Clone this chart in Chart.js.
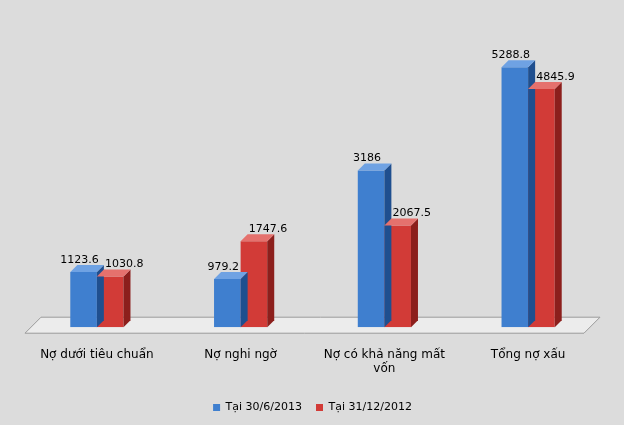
<!DOCTYPE html>
<html><head><meta charset="utf-8">
<script src="https://cdn.jsdelivr.net/npm/chart.js@4"></script>
<style>body{margin:0;background:#dcdcdc}#wrap{width:624px;height:425px}</style>
</head><body><div id="wrap"><canvas id="c"></canvas></div>
<script>
const categories = ["Nợ dưới tiêu chuẩn", "Nợ nghi ngờ", ["Nợ có khả năng mất", "vốn"], "Tổng nợ xấu"];
const series2013 = [1123.6, 979.2, 3186, 5288.8];
const series2012 = [1030.8, 1747.6, 2067.5, 4845.9];
const seriesNames = ["Tại 30/6/2013", "Tại 31/12/2012"];
const D = 7;

const plugin3d = {
  id: 'p3d',
  beforeDatasetsDraw(chart) {
    const ctx = chart.ctx, a = chart.chartArea, y0 = chart.scales.y.getPixelForValue(0);
    ctx.save();
    ctx.fillStyle = '#ececec'; ctx.strokeStyle = '#9a9a9a'; ctx.lineWidth = 1;
    ctx.beginPath();
    ctx.moveTo(a.left, y0 + 6); ctx.lineTo(a.left + 16, y0 - 10);
    ctx.lineTo(a.right, y0 - 10); ctx.lineTo(a.right - 16, y0 + 6); ctx.closePath();
    ctx.fill(); ctx.stroke();
    ctx.restore();
  },
  afterDatasetsDraw(chart) {
    const ctx = chart.ctx;
    const dark = ['#1f4f8f', '#8c1f1c'], light = ['#6fa2e3', '#e5716d'];
    chart.data.datasets.forEach((ds, i) => {
      chart.getDatasetMeta(i).data.forEach((b, j) => {
        const w = b.width / 2, x = b.x, y = b.y, base = b.base;
        ctx.fillStyle = dark[i];
        ctx.beginPath();
        ctx.moveTo(x + w, y); ctx.lineTo(x + w + D, y - D); ctx.lineTo(x + w + D, base - D); ctx.lineTo(x + w, base); ctx.closePath(); ctx.fill();
        ctx.fillStyle = light[i];
        ctx.beginPath();
        ctx.moveTo(x - w, y); ctx.lineTo(x - w + D, y - D); ctx.lineTo(x + w + D, y - D); ctx.lineTo(x + w, y); ctx.closePath(); ctx.fill();
        ctx.fillStyle = '#000'; ctx.font = '11px "DejaVu Sans"'; ctx.textAlign = 'center';
        ctx.fillText(String(ds.data[j]), x + (i ? 14 : -4), y - D - 5);
      });
    });
  }
};

new Chart(document.getElementById('c'), {
  type: 'bar',
  data: {
    labels: categories,
    datasets: [
      { label: seriesNames[0], data: series2013, backgroundColor: '#3f7fcf' },
      { label: seriesNames[1], data: series2012, backgroundColor: '#d23b37' }
    ]
  },
  options: {
    responsive: true, maintainAspectRatio: false, animation: false,
    layout: { padding: { left: 25, right: 24, top: 20, bottom: 2 } },
    datasets: { bar: { categoryPercentage: 0.37, barPercentage: 1 } },
    scales: {
      y: { display: false, min: 0, max: 6250 },
      x: { grid: { display: false }, border: { display: false },
           ticks: { color: '#000', font: { size: 12, family: 'DejaVu Sans' }, padding: 12 } }
    },
    plugins: {
      tooltip: { enabled: false },
      legend: { position: 'bottom',
        labels: { boxWidth: 7, boxHeight: 7, color: '#000', font: { size: 11, family: 'DejaVu Sans' }, padding: 14 } }
    }
  },
  plugins: [plugin3d]
});
</script></body></html>
